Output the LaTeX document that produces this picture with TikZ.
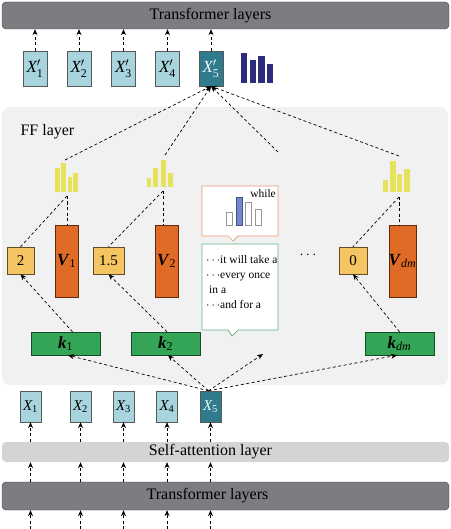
\documentclass[tikz,border=0pt]{standalone}
\usepackage{fontspec}
\setmainfont{Liberation Serif}
\usepackage{xcolor}
\usetikzlibrary{arrows.meta}
\usetikzlibrary{positioning}

\definecolor{tfgray}{HTML}{7D7C81}
\definecolor{sagray}{HTML}{D4D4D4}
\definecolor{panelgray}{HTML}{F1F1F1}
\definecolor{xlight}{HTML}{A8D4DD}
\definecolor{xdark}{HTML}{2F7B8D}
\definecolor{navybar}{HTML}{2B2D7C}
\definecolor{yellowbar}{HTML}{E6E25E}
\definecolor{vorange}{HTML}{E06B27}
\definecolor{numorange}{HTML}{F5C463}
\definecolor{kgreen}{HTML}{34A456}
\definecolor{calloutorange}{HTML}{E39A6E}
\definecolor{calloutgreen}{HTML}{63B386}
\definecolor{bluebar}{HTML}{7089CC}

% token labels in Times-like italic
\newcommand{\tokx}[1]{$\mathit{X}_{\mathrm{#1}}$}
\newcommand{\tokxp}[1]{$\mathit{X}'_{\mathrm{#1}}$}
\newcommand{\bvec}[2]{\textbf{\textit{#1}}\textsubscript{#2}}

\begin{document}
\begin{tikzpicture}[x=1pt,y=-1pt]
% 1 unit = 1 px of the 450x529 frame, y going down
    \tikzset{
      dline/.style={black, line width=0.7pt, dash pattern=on 3pt off 2.5pt},
      flow/.style={dline, -{Stealth[length=6pt,width=5pt]}},
      layer/.style={rounded corners=4pt, inner sep=0pt, minimum width=447},
      xbox/.style={draw=black!65, fill=xlight, inner sep=0pt,
        font=\fontsize{17}{17}\selectfont},
      vbox/.style={draw=black!60!vorange, fill=vorange, inner sep=0pt,
        minimum height=72, font=\fontsize{17}{17}\selectfont},
      numbox/.style={draw=black!60!numorange, fill=numorange, inner sep=0pt,
        minimum height=27, font=\fontsize{15}{15}\selectfont},
      kbox/.style={draw=black!55!kgreen, fill=kgreen, inner sep=0pt,
        minimum width=69, minimum height=23, font=\fontsize{17}{17}\selectfont},
      bigtext/.style={font=\fontsize{16}{16}\selectfont},
    }
    \useasboundingbox (0,0) rectangle (450,529);

    % LAYERS
    \node[layer, draw=black!75, fill=tfgray, minimum height=27] (toptf) at (225.5,15.5) {};
    \node[bigtext] (toptftext) at ([xshift=-15pt]toptf.center) {Transformer layers};

    \node[layer, fill=sagray, minimum height=20] (selfatt) at (225.5,452) {};
    \node[bigtext] (selfatttext) at ([xshift=-15pt]selfatt.center) {Self-attention layer};

    \node[layer, draw=black!75, fill=tfgray, minimum height=28] (bottf) at (225.5,496) {};
    \node[bigtext] (bottftext) at ([xshift=-18pt]bottf.center) {Transformer layers};

    % FF PANEL
    \fill[panelgray, rounded corners=8pt] (2,107) rectangle (448,385);
    \node[bigtext, anchor=west] (fftext) at (17,132) {FF layer};

    % OUTPUT TOKENS
    \foreach \i/\x in {1/35,2/79,3/123.5,4/167.5}
        \node[xbox, minimum width=24, minimum height=35] (xp\i) at (\x,68.5) {\tokxp{\i}};
    \node[xbox, fill=xdark, text=white!85!xlight, minimum width=24, minimum height=35]
        (xp5) at (211,68.5) {\tokxp{5}};
    \foreach \xa/\xb/\top in {241/247/53,250/256/60,258/265/56,267/273/64}
        \fill[navybar] (\xa,\top) rectangle (\xb,83);

    % INPUT TOKENS
    \foreach \i/\x in {1/30.5,2/80.5,3/123.5,4/167}
        \node[xbox, font=\fontsize{15}{15}\selectfont, minimum width=21, minimum height=31]
            (x\i) at (\x,406.5) {\tokx{\i}};
    \node[xbox, font=\fontsize{15}{15}\selectfont, fill=xdark, text=white!85!xlight,
        minimum width=21, minimum height=31] (x5) at (210.5,406.5) {\tokx{5}};

    % arrows through the layers
    \foreach \i in {1,...,5} {
        \draw[flow] (xp\i.north) -- (xp\i.north |- toptf.south);
        \draw[flow] (x\i.north |- selfatt.north) -- (x\i.south);
        \draw[flow] (x\i.south |- bottf.north) -- (x\i.south |- selfatt.south);
        \coordinate (in\i) at (x\i.south |- 0,529);
        \draw[flow] (in\i) -- (in\i |- bottf.south);
    }

    % KEYS, VALUES, COEFFICIENTS
    \node[kbox] (k1) at (65.5,343.5) {\bvec{k}{1}};
    \node[kbox] (k2) at (165.5,343.5) {\bvec{k}{2}};
    \node[kbox] (kdm) at (399.5,343.5) {\bvec{k}{\textit{dm}}};

    \node[numbox, minimum width=27] (n1) at (20.5,260.5) {2};
    \node[numbox, minimum width=31] (n2) at (108.5,260.5) {1.5};
    \node[numbox, minimum width=28] (ndm) at (353,260.5) {0};

    \node[vbox, minimum width=23] (v1) at (66.5,261) {\bvec{V}{1}};
    \node[vbox, minimum width=23] (v2) at (166.5,261) {\bvec{V}{2}};
    \node[vbox, minimum width=27] (vdm) at (402.5,261) {\bvec{V}{\textit{dm}}};

    \node[font=\fontsize{14}{14}\selectfont] (dots) at (308,255) {$\cdots$};

    % yellow bars
    \foreach \xa/\xb/\top in {55/60/168,61/66/163,68/72/177,73/78/173}
        \fill[yellowbar] (\xa,\top) rectangle (\xb,192);
    \foreach \xa/\xb/\top in {147/151/178,153/158/168,161/166/160,168/173/173}
        \fill[yellowbar] (\xa,\top) rectangle (\xb,187);
    \foreach \xa/\xb/\top in {383/388/180,390/396/161,397/402/174,404/410/169}
        \fill[yellowbar] (\xa,\top) rectangle (\xb,192);
    \coordinate (bars1top) at (65,160);
    \coordinate (bars1bot) at (67,196);
    \coordinate (bars2top) at (165,155);
    \coordinate (bars2bot) at (163,191);
    \coordinate (bars3top) at (399,156);
    \coordinate (bars3bot) at (399,197);
    \coordinate (ghosttop) at (278,152);
    \coordinate (ghostk) at (263,354);

    % CALLOUTS
    \draw[calloutorange, fill=white, line width=0.7pt]
        (202,186) -- (278,186) -- (278,236) -- (238,236) -- (233,241)
        -- (228,236) -- (202,236) -- cycle;
    \foreach \xa/\xb/\top in {226/232/212,245/251/202,255/261/209}
        \draw[black!40, line width=0.6pt] (\xa,\top) rectangle (\xb,225);
    \draw[black!40!bluebar, fill=bluebar, line width=0.6pt] (236,197) rectangle (242,225);
    \node[anchor=north east, inner sep=0pt, font=\fontsize{11.5}{11.5}\selectfont]
        (whiletext) at (276,189) {while};

    \draw[calloutgreen, fill=white, line width=0.7pt]
        (202,244) -- (278,244) -- (278,330) -- (238,330) -- (232,336)
        -- (228,330) -- (202,330) -- cycle;
    \node[anchor=north west, align=left, inner sep=0pt, font=\fontsize{11.5}{15}\selectfont]
        (ctxtext) at (206,255)
        {$\cdots$it will take a\\$\cdots$every once\\\hspace*{3pt}in a\\$\cdots$and for a};

    % connections
    \draw[flow] (bars1top) -- (xp5.south);
    \draw[flow] (bars2top) -- (xp5.south);
    \draw[flow] (ghosttop) -- (xp5.south);
    \draw[flow] (bars3top) -- (xp5.south);

    \draw[dline] (bars1bot) -- (bars1bot |- v1.north);
    \draw[dline] (bars1bot) -- (n1.north);
    \draw[dline] (bars2bot) -- (bars2bot |- v2.north);
    \draw[dline] (bars2bot) -- (n2.north);
    \draw[dline] (bars3bot) -- (bars3bot |- vdm.north);
    \draw[dline] (bars3bot) -- (ndm.north);

    \draw[flow] ([xshift=7pt]k1.north) -- (n1.south);
    \draw[flow] ([xshift=1.5pt]k2.north) -- (n2.south);
    \draw[flow] (kdm.north) -- (ndm.south);

    \draw[flow] ([xshift=-2pt]x5.north) -- ([xshift=2.5pt]k1.south);
    \draw[flow] ([xshift=-2pt]x5.north) -- ([xshift=2.5pt]k2.south);
    \draw[flow] ([xshift=-2pt]x5.north) -- (ghostk);
    \draw[flow] ([xshift=-2pt]x5.north) -- ([xshift=-2.5pt]kdm.south);

\end{tikzpicture}
\end{document}
